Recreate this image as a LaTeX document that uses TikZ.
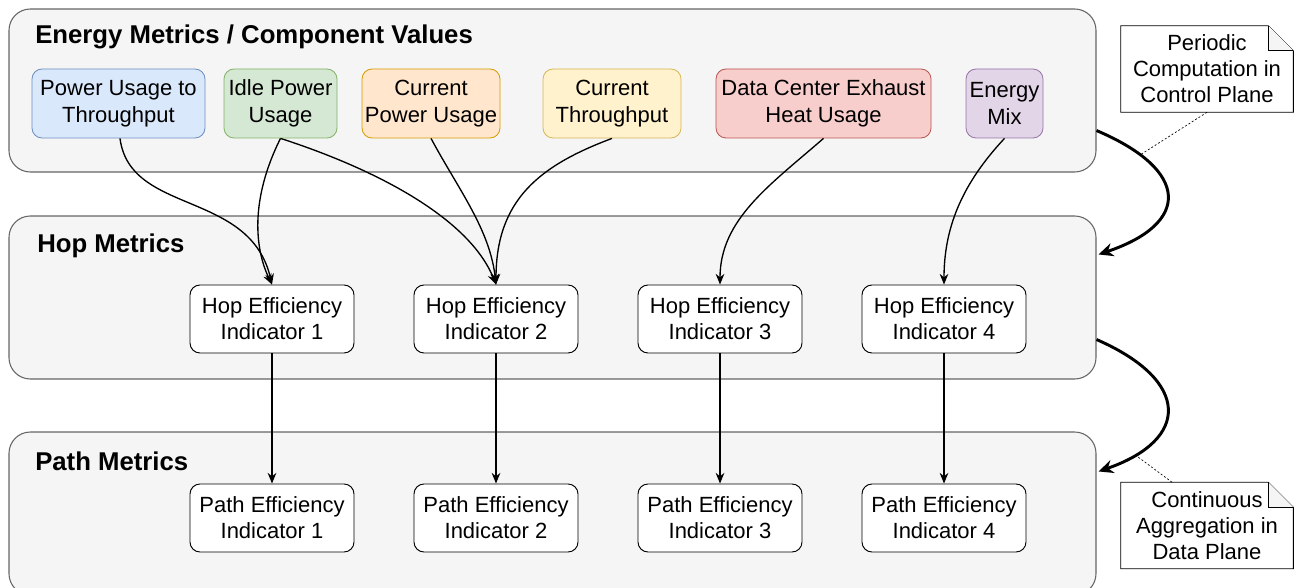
\documentclass[tikz,border=0pt]{standalone}
\usepackage{fontspec}
\setmainfont{Liberation Sans}
\usetikzlibrary{arrows.meta,calc}
\definecolor{contfill}{HTML}{F5F5F5}
\definecolor{contline}{HTML}{666666}
\definecolor{bluef}{HTML}{DAE8FC}\definecolor{bluel}{HTML}{6C8EBF}
\definecolor{greenf}{HTML}{D5E8D4}\definecolor{greenl}{HTML}{82B366}
\definecolor{orangef}{HTML}{FFE6CC}\definecolor{orangel}{HTML}{D79B00}
\definecolor{yellowf}{HTML}{FFF2CC}\definecolor{yellowl}{HTML}{D6B656}
\definecolor{redf}{HTML}{F8CECC}\definecolor{redl}{HTML}{B85450}
\definecolor{purplef}{HTML}{E1D5E7}\definecolor{purplel}{HTML}{9673A6}
\tikzset{
  container/.style={draw=contline, fill=contfill, line width=0.8pt, rounded corners=16pt,
    minimum width=815.25pt, minimum height=122.25pt, inner sep=0pt},
  ctitle/.style={anchor=west, font=\fontsize{19.3}{22}\selectfont\bfseries, inner sep=0pt},
  metric/.style={rounded corners=7.5pt, line width=0.6pt, minimum height=51.75pt,
    inner sep=0pt, align=center, font=\fontsize{16.5}{20.25}\selectfont},
  indic/.style={draw=black, fill=white, rounded corners=7.5pt, line width=0.7pt,
    minimum width=123pt, minimum height=51pt, inner sep=0pt, align=center,
    font=\fontsize{16.5}{19.5}\selectfont},
  notebox/.style={minimum width=129pt, minimum height=64.5pt, inner sep=0pt, align=center,
    font=\fontsize{16.5}{19.5}\selectfont},
  flow/.style={line width=1pt, -{Stealth[length=8pt,width=6.5pt]}},
  bigflow/.style={line width=2.2pt, -{Stealth[length=11pt,width=10pt]}},
  notelink/.style={line width=0.5pt, dash pattern=on 1.5pt off 1.5pt},
}
\begin{document}
\begin{tikzpicture}[x=0.75pt,y=-0.75pt]
\useasboundingbox (0,0) rectangle (1294,588);
% containers
\node[container] (c1) at (552.5,90.5) {};
\node[container] (c2) at (552.5,297.5) {};
\node[container] (c3) at (552.5,513.5) {};
\node[ctitle] (t1) at (35,37) {Energy Metrics / Component Values};
\node[ctitle] (t2) at (37,246) {Hop Metrics};
\node[ctitle] (t3) at (35,461) {Path Metrics};
% metric boxes
\node[metric, draw=bluel, fill=bluef, minimum width=129.75pt] (m1) at (118.5,103.5) {Power Usage to\\Throughput};
\node[metric, draw=greenl, fill=greenf, minimum width=84.75pt] (m2) at (280.5,103.5) {Idle Power\\Usage};
\node[metric, draw=orangel, fill=orangef, minimum width=103.5pt] (m3) at (431,103.5) {Current\\Power Usage};
\node[metric, draw=yellowl, fill=yellowf, minimum width=103.5pt] (m4) at (612,103.5) {Current\\Throughput};
\node[metric, draw=redl, fill=redf, minimum width=161.25pt] (m5) at (823.5,103.5) {Data Center Exhaust\\Heat Usage};
\node[metric, draw=purplel, fill=purplef, minimum width=57.75pt] (m6) at (1004.5,103.5) {Energy\\Mix};
% hop indicators
\node[indic] (h1) at (272,319) {Hop Efficiency\\Indicator 1};
\node[indic] (h2) at (496,319) {Hop Efficiency\\Indicator 2};
\node[indic] (h3) at (720,319) {Hop Efficiency\\Indicator 3};
\node[indic] (h4) at (944,319) {Hop Efficiency\\Indicator 4};
% path indicators
\node[indic] (p1) at (272,518) {Path Efficiency\\Indicator 1};
\node[indic] (p2) at (496,518) {Path Efficiency\\Indicator 2};
\node[indic] (p3) at (720,518) {Path Efficiency\\Indicator 3};
\node[indic] (p4) at (944,518) {Path Efficiency\\Indicator 4};
% curved connectors
\draw[flow] ($(m1.south)+(1.5,0)$) .. controls +(10,77) and +(-22,-95) .. (h1.north);
\draw[flow] (m2.south) .. controls +(-31,62) and +(-17,-35) .. (h1.north);
\draw[flow] (m2.south) .. controls +(99,32) and +(-26,-65) .. (h2.north);
\draw[flow] (m3.south) .. controls +(28,52) and +(-6,-55) .. (h2.north);
\draw[flow] (m4.south) .. controls +(-72,27) and +(0,-85) .. (h2.north);
\draw[flow] (m5.south) .. controls +(-54,47) and +(0,-65) .. (h3.north);
\draw[flow] (m6.south) .. controls +(-44,47) and +(0,-55) .. (h4.north);
% straight connectors
\foreach \i in {1,2,3,4} { \draw[flow] (h\i.south) -- (p\i.north); }
% big arrows between containers
\draw[bigflow] ($(c1.south east)+(0,-42)$) .. controls +(94,40) and +(92,-31) .. ($(c2.north east)+(2,39)$);
\draw[bigflow] ($(c2.south east)+(0,-40)$) .. controls +(94,41) and +(92,-32) .. ($(c3.north east)+(2,40)$);
% notes
\node[notebox] (n1) at (1207,69) {};
\node[notebox] (n2) at (1207,525.5) {};
\foreach \n in {n1,n2} {
  \draw[line width=0.7pt, fill=white] (\n.north west) -- ($(\n.north east)+(-25,0)$) -- ($(\n.north east)+(0,25)$) -- (\n.south east) -- (\n.south west) -- cycle;
  \draw[line width=0.7pt, fill=contfill] ($(\n.north east)+(-25,0)$) -- ($(\n.north east)+(-25,25)$) -- ($(\n.north east)+(0,25)$);
}
\node[notebox] (n1t) at (n1) {Periodic\\Computation in\\Control Plane};
\node[notebox] (n2t) at (n2) {Continuous\\Aggregation in\\Data Plane};
\coordinate (k1) at (1140,155);
\coordinate (k2) at (1138,457);
\draw[notelink] (n1.south) -- (k1);
\draw[notelink] ($(n2.north)+(-35,0)$) -- (k2);
\end{tikzpicture}
\end{document}
